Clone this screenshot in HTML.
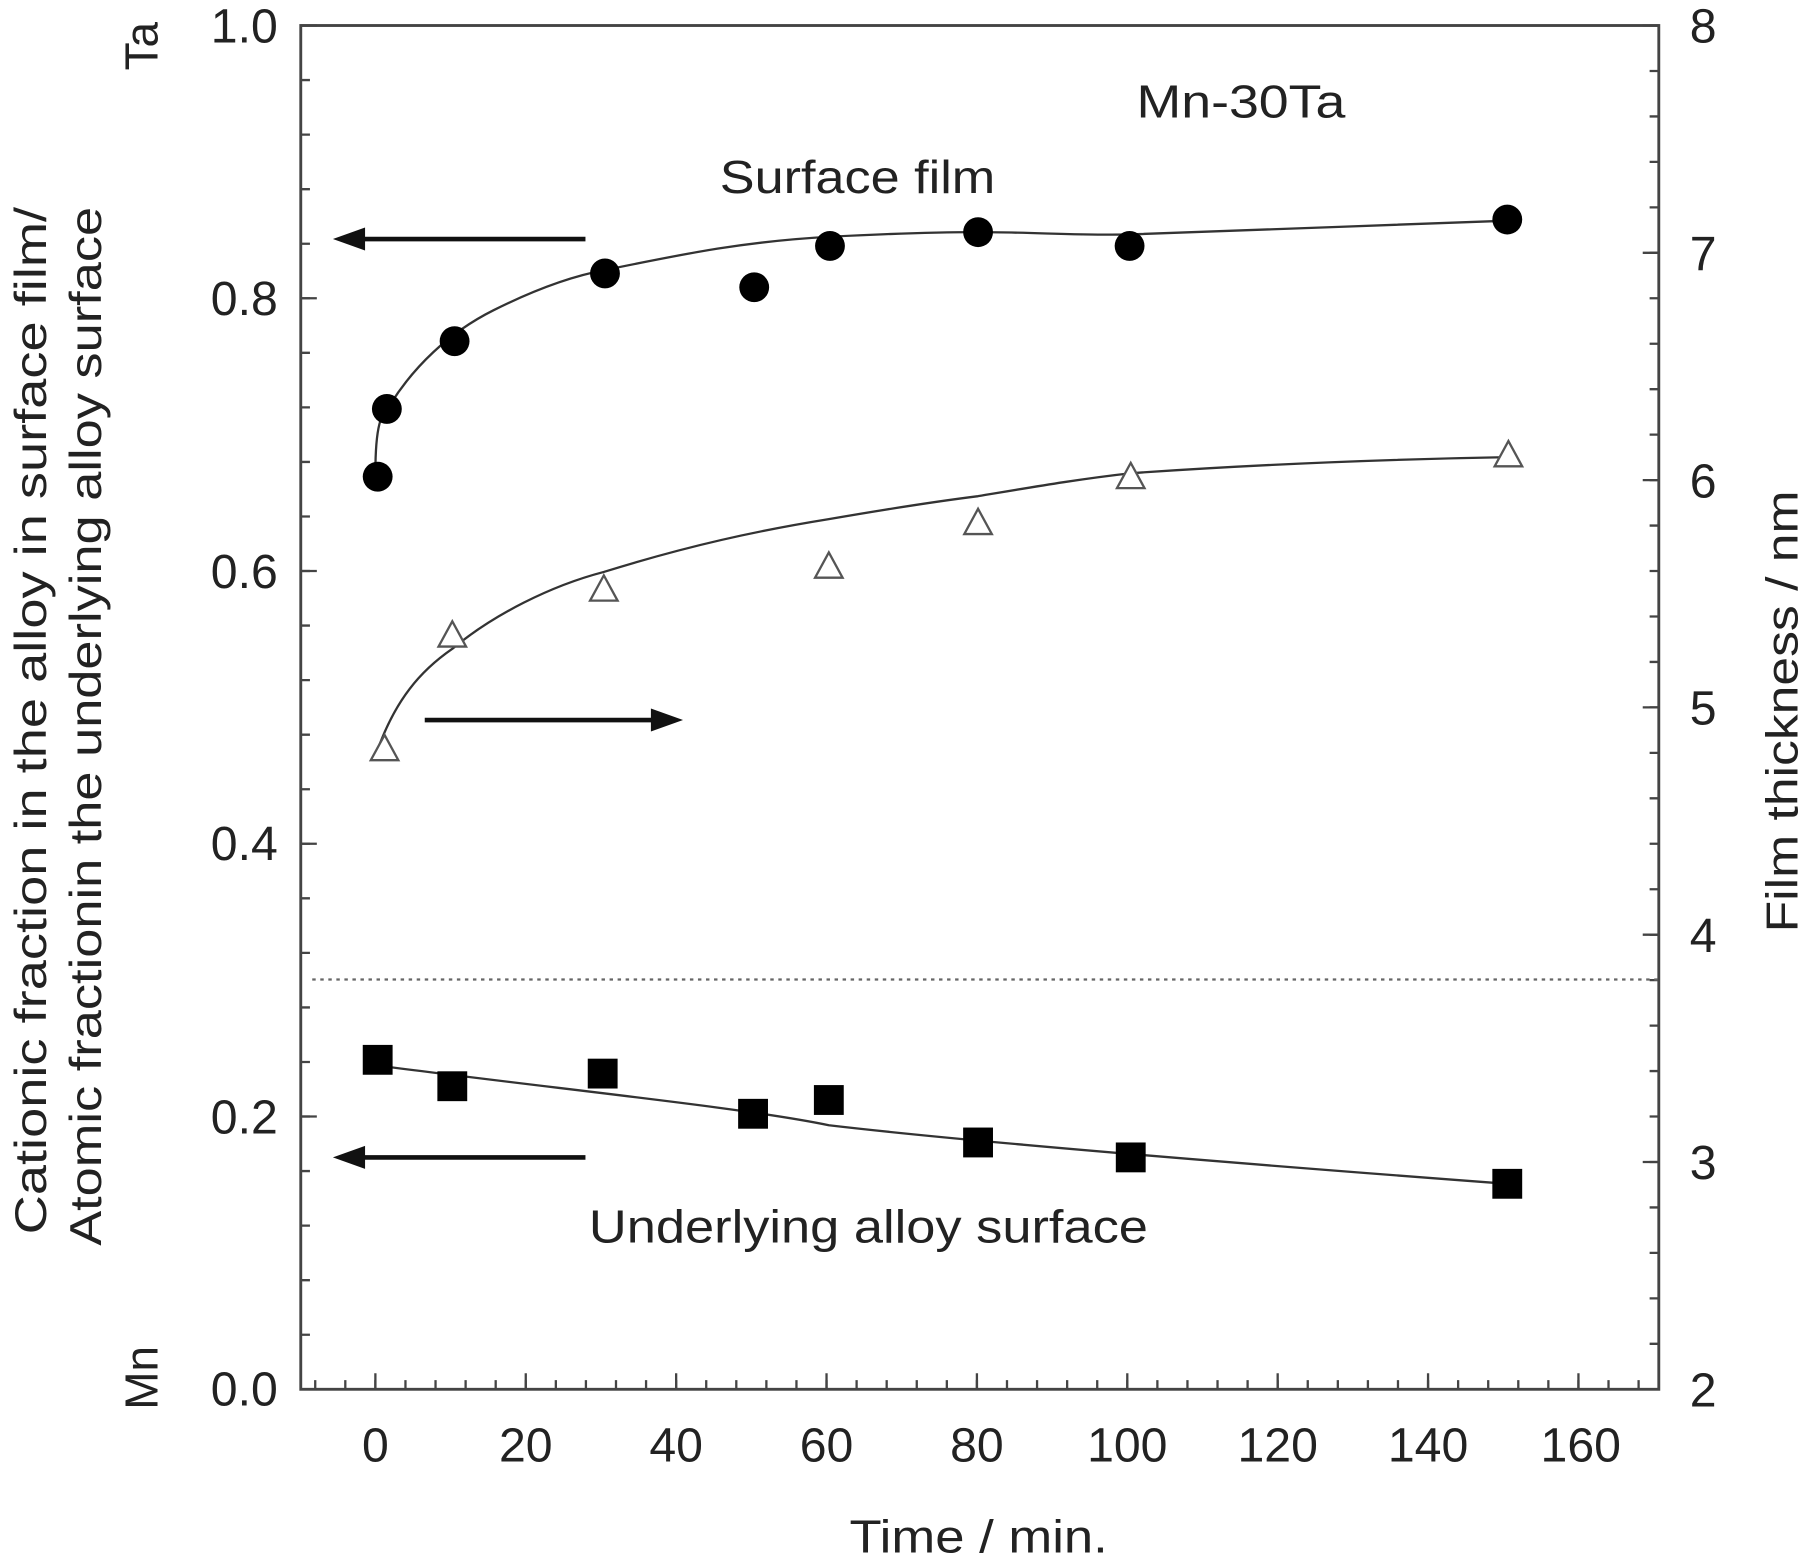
<!DOCTYPE html>
<html><head><style>html,body{margin:0;padding:0;background:#fff}svg{display:block}</style></head>
<body>
<svg width="1800" height="1556" viewBox="0 0 1568 1355" xmlns="http://www.w3.org/2000/svg" font-family="Liberation Sans, sans-serif" fill="#222">
<rect width="1568" height="1355" fill="#fff"/>
<rect x="262" y="22" width="1183" height="1188" fill="none" stroke="#444" stroke-width="2.5"/>
<line x1="266" y1="21" x2="266" y2="1212" stroke="#444" stroke-width="8" stroke-dasharray="2 45.52"/>
<line x1="269" y1="21" x2="269" y2="1212" stroke="#444" stroke-width="14" stroke-dasharray="2 235.6"/>
<line x1="1441" y1="21" x2="1441" y2="1212" stroke="#444" stroke-width="8" stroke-dasharray="2 37.6"/>
<line x1="1438" y1="21" x2="1438" y2="1212" stroke="#444" stroke-width="14" stroke-dasharray="2 196"/>
<line x1="273.6" y1="1206" x2="1440" y2="1206" stroke="#444" stroke-width="8" stroke-dasharray="2 24.2"/>
<line x1="326" y1="1203" x2="1380" y2="1203" stroke="#444" stroke-width="14" stroke-dasharray="2 129"/>
<line x1="272" y1="853" x2="1445" y2="853" stroke="#666" stroke-width="2" stroke-dasharray="3 4"/>
<g font-size="42" text-anchor="end">
<text x="242" y="37">1.0</text><text x="242" y="274">0.8</text><text x="242" y="512">0.6</text>
<text x="242" y="749">0.4</text><text x="242" y="987">0.2</text><text x="242" y="1224">0.0</text>
</g>
<g font-size="42" text-anchor="start">
<text x="1472" y="37">8</text><text x="1472" y="235">7</text><text x="1472" y="433">6</text>
<text x="1472" y="631">5</text><text x="1472" y="829">4</text><text x="1472" y="1027">3</text><text x="1472" y="1225">2</text>
</g>
<g font-size="42" text-anchor="middle">
<text x="327" y="1273">0</text><text x="458" y="1273">20</text><text x="589" y="1273">40</text><text x="720" y="1273">60</text>
<text x="851" y="1273">80</text><text x="982" y="1273">100</text><text x="1113" y="1273">120</text><text x="1244" y="1273">140</text><text x="1377" y="1273">160</text>
</g>
<text x="740" y="1352" font-size="40" textLength="225" lengthAdjust="spacingAndGlyphs">Time / min.</text>
<text transform="translate(137,40) rotate(-90)" font-size="40" text-anchor="middle">Ta</text>
<text transform="translate(137,1200) rotate(-90)" font-size="40" text-anchor="middle">Mn</text>
<text transform="translate(40,1075) rotate(-90)" font-size="39" textLength="895" lengthAdjust="spacingAndGlyphs">Cationic fraction in the alloy in surface film/</text>
<text transform="translate(88,1085) rotate(-90)" font-size="39" textLength="905" lengthAdjust="spacingAndGlyphs">Atomic fractionin the underlying alloy surface</text>
<text transform="translate(1566,812) rotate(-90)" font-size="39" textLength="385" lengthAdjust="spacingAndGlyphs">Film thickness / nm</text>
<text x="990" y="102" font-size="40" textLength="182" lengthAdjust="spacingAndGlyphs">Mn-30Ta</text>
<text x="627" y="168" font-size="40" textLength="240" lengthAdjust="spacingAndGlyphs">Surface film</text>
<text x="513" y="1082" font-size="40" textLength="487" lengthAdjust="spacingAndGlyphs">Underlying alloy surface</text>
<g stroke="#111" stroke-width="4" fill="#111">
<line x1="510" y1="208" x2="310" y2="208"/><polygon points="290,208 318,198 318,218" stroke="none"/>
<line x1="510" y1="1008" x2="310" y2="1008"/><polygon points="290,1008 318,998 318,1018" stroke="none"/>
<line x1="370" y1="627" x2="575" y2="627"/><polygon points="595,627 567,617 567,637" stroke="none"/>
</g>
<g fill="none" stroke="#333" stroke-width="2">
<path d="M327,412 C327,370 332,360 340,352 C360,320 390,290 430,270 C470,250 500,240 527,235 C600,220 650,210 723,206 C780,203 820,202 852,202 C900,202 940,205 984,204 C1100,200 1200,196 1313,192"/>
<path d="M330,650 C345,610 365,585 394,565 C430,535 480,510 526,498 C600,475 660,462 722,452 C780,442 820,436 852,432 C900,424 940,417 985,412 C1100,404 1200,400 1314,398"/>
<path d="M329,928 C500,950 650,965 722,980 C850,995 1100,1015 1313,1031"/>
</g>
<g fill="#000">
<circle cx="329" cy="415" r="13"/><circle cx="337" cy="356" r="13"/><circle cx="396" cy="297" r="13"/>
<circle cx="527" cy="238" r="13"/><circle cx="657" cy="250" r="13"/><circle cx="723" cy="214" r="13"/>
<circle cx="852" cy="202" r="13"/><circle cx="984" cy="214" r="13"/><circle cx="1313" cy="191" r="13"/>
</g>
<g fill="#fff" stroke="#555" stroke-width="2">
<polygon points="335,640 323,662 347,662"/><polygon points="394,541 382,563 406,563"/>
<polygon points="526,501 514,523 538,523"/><polygon points="722,481 710,503 734,503"/>
<polygon points="852,443 840,465 864,465"/><polygon points="985,403 973,425 997,425"/>
<polygon points="1314,384 1302,406 1326,406"/>
</g>
<g fill="#000">
<rect x="316" y="910" width="26" height="26"/><rect x="381" y="933" width="26" height="26"/>
<rect x="512" y="922" width="26" height="26"/><rect x="643" y="957" width="26" height="26"/>
<rect x="709" y="945" width="26" height="26"/><rect x="839" y="982" width="26" height="26"/>
<rect x="972" y="995" width="26" height="26"/><rect x="1300" y="1018" width="26" height="26"/>
</g>
</svg>
</body></html>
